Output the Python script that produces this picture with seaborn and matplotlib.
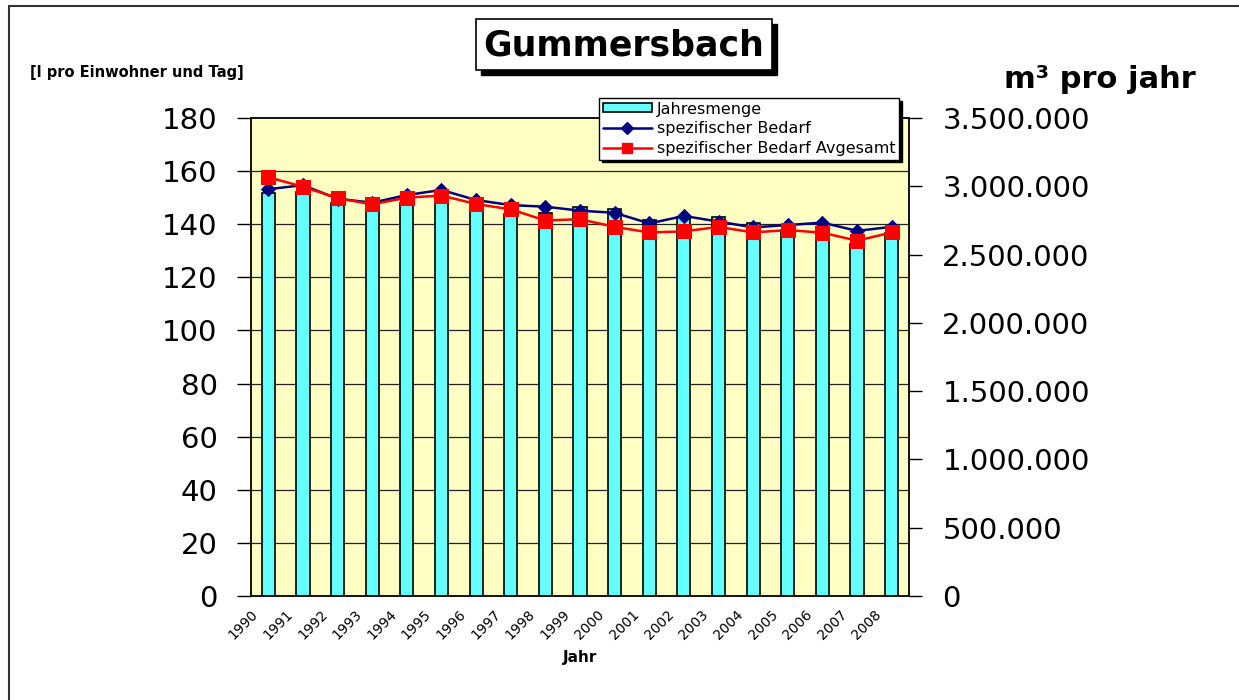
import numpy as np
import pandas as pd
import matplotlib
matplotlib.use("Agg")
import matplotlib.pyplot as plt
import seaborn as sns
from matplotlib.patches import Rectangle
from matplotlib.lines import Line2D

# ---- data ----
years = [str(y) for y in range(1990, 2009)]
jahresmenge = [2949000, 2960000, 2881000, 2839000, 2880000, 2900000, 2839000,
               2795000, 2807000, 2846000, 2832000, 2753000, 2773000, 2773000,
               2733000, 2680000, 2670000, 2580000, 2660000]
spez_bedarf = [153.2, 154.7, 149.6, 148.1, 151.0, 152.9, 149.1, 147.2, 146.6,
               145.1, 144.3, 140.3, 143.1, 141.0, 138.8, 139.7, 140.6, 137.5, 139.0]
spez_avgesamt = [157.7, 154.1, 149.8, 147.5, 150.0, 150.8, 147.6, 145.6, 141.4,
                 141.9, 139.0, 136.9, 137.3, 139.0, 136.9, 137.8, 136.8, 133.8, 136.9]
left_ticks = list(range(0, 181, 20))
right_ticks = list(range(0, 3500001, 500000))

sns.set_theme(style="white")
plt.rcParams['font.family'] = ['DejaVu Sans']
plt.rcParams.update({"text.color": "black", "axes.labelcolor": "black",
                     "xtick.color": "black", "ytick.color": "black"})

df = pd.DataFrame({"Jahr": years, "Jahresmenge": jahresmenge,
                   "spez": spez_bedarf, "avg": spez_avgesamt,
                   "pos": np.arange(len(years))})

W, H = 1239, 700
fig = plt.figure(figsize=(W / 100, H / 100), dpi=100)
fig.patch.set_facecolor("white")

def fx(px):
    return px / W

def fy(py):
    return 1 - py / H

ax = fig.add_axes([fx(251), fy(596), fx(909) - fx(251), fy(118) - fy(596)])
ax2 = ax.twinx()
ax.set_zorder(ax2.get_zorder() + 1)
ax.patch.set_visible(False)
ax2.patch.set_facecolor("#FFFFC4")
ax2.patch.set_visible(True)

# bars on right axis
sns.barplot(data=df, x="Jahr", y="Jahresmenge", ax=ax2, color="#66FFFF",
            width=0.38, edgecolor="black", linewidth=1.2, saturation=1, zorder=3)
ax2.set_ylim(0, 3500000)
ax2.set_yticks(right_ticks)
ax2.set_yticklabels([f"{v:,}".replace(",", ".") for v in right_ticks], fontsize=21)
ax2.set_ylabel("")
ax2.set_xlabel("")
# horizontal grid lines at left-axis tick heights, behind bars
ax2.set_yticks([v * 3500000 / 180 for v in left_ticks[1:-1]], minor=True)
ax2.grid(which="minor", axis="y", color="#222222", linewidth=0.9, zorder=0)
ax2.grid(which="major", visible=False)
ax2.set_axisbelow(True)
ax2.tick_params(axis="y", which="minor", length=0)
ax2.tick_params(axis="y", which="major", direction="out", length=9, width=1,
                color="black", pad=15, labelcolor="black")

# lines on left axis
sns.lineplot(data=df, x="pos", y="spez", ax=ax, color="#000080", linewidth=1.8,
             marker="D", markersize=7, markeredgecolor="#000080", zorder=5)
sns.lineplot(data=df, x="pos", y="avg", ax=ax, color="#FF0000", linewidth=1.8,
             marker="s", markersize=10, markeredgecolor="#FF0000", zorder=6)
ax.set_ylim(0, 180)
ax.set_yticks(left_ticks)
ax.set_yticklabels([str(v) for v in left_ticks], fontsize=21)
ax.tick_params(axis="y", direction="out", length=10, width=1, color="black", pad=14,
               labelcolor="black")
ax.set_ylabel("")

# x axis: labels at category boundaries
ax.set_xlim(-0.5, len(years) - 0.5)
ax.set_xticks(np.arange(len(years) + 1) - 0.5)
ax.set_xticklabels(years + [""], rotation=45, ha="right", rotation_mode="anchor",
                   fontsize=10)
ax.tick_params(axis="x", direction="out", length=5, width=1, color="black", pad=3,
               labelcolor="black")
ax.set_xlabel("Jahr", fontsize=11, fontweight="bold", labelpad=6, color="black")

for a in (ax, ax2):
    for s in a.spines.values():
        s.set_visible(True)
        s.set_color("#111111")
        s.set_linewidth(1.2)

# legend
handles = [Rectangle((0, 0), 1, 1, facecolor="#66FFFF", edgecolor="black", linewidth=1.2),
           Line2D([], [], color="#000080", linewidth=1.8, marker="D", markersize=6),
           Line2D([], [], color="#FF0000", linewidth=1.8, marker="s", markersize=7)]
labels = ["Jahresmenge", "spezifischer Bedarf", "spezifischer Bedarf Avgesamt"]
leg = fig.legend(handles, labels, loc="upper left",
                 bbox_to_anchor=(fx(599), fy(98)), fontsize=11.5, frameon=True,
                 fancybox=False, edgecolor="black", framealpha=1,
                 handlelength=3.1, handleheight=0.5, handletextpad=0.3,
                 labelspacing=0.3, borderpad=0.22, borderaxespad=0,
                 shadow={"facecolor": "black", "edgecolor": "black", "alpha": 1})
leg.get_frame().set_linewidth(1.0)
for t in leg.get_texts():
    t.set_color("black")

# title box with shadow
fig.patches.append(Rectangle((fx(481), fy(75)), fx(772) - fx(476), fy(19) - fy(70),
                             transform=fig.transFigure, facecolor="black",
                             edgecolor="black", zorder=1))
fig.patches.append(Rectangle((fx(476), fy(70)), fx(772) - fx(476), fy(19) - fy(70),
                             transform=fig.transFigure, facecolor="white",
                             edgecolor="black", linewidth=1.2, zorder=2))
fig.text(fx(624), fy(45), "Gummersbach", fontsize=25, fontweight="bold",
         ha="center", va="center", zorder=3, color="black")

# axis unit labels
fig.text(fx(30), fy(72), "[l pro Einwohner und Tag]", fontsize=10.5,
         fontweight="bold", ha="left", va="center", color="black")
fig.text(fx(1100), fy(80), "m³ pro jahr", fontsize=22, fontweight="bold",
         ha="center", va="center", color="black")

# outer frame (top and left edges)
fig.lines.append(Line2D([fx(8.5), fx(8.5)], [0, fy(5.5)], transform=fig.transFigure,
                        color="#333333", linewidth=1.5))
fig.lines.append(Line2D([fx(8.5), 1], [fy(5.5), fy(5.5)], transform=fig.transFigure,
                        color="#333333", linewidth=1.5))

fig.savefig("out.png", dpi=100)
